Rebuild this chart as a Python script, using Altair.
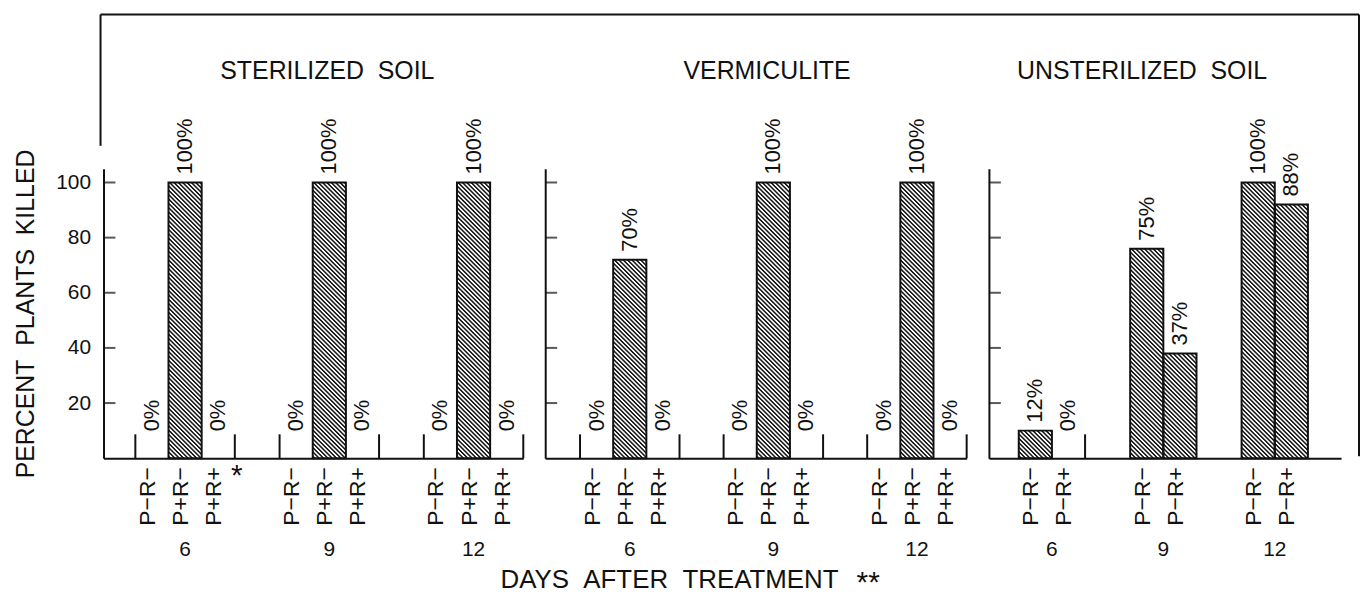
import base64
import altair as alt
import pandas as pd

# ---------------- data ----------------
panel_names = ["STERILIZED\u00a0\u00a0SOIL", "VERMICULITE", "UNSTERILIZED\u00a0\u00a0SOIL"]
days = ["6", "9", "12"]
treatments_3 = ["P\u2212R\u2212", "P+R\u2212", "P+R+"]
treatments_2 = ["P\u2212R\u2212", "P\u2212R+"]

# bar heights as drawn (percent) - one row per day
steril_vals = [[0, 100, 0], [0, 100, 0], [0, 100, 0]]
vermic_vals = [[0, 72, 0], [0, 100, 0], [0, 100, 0]]
unster_vals = [[10, 0], [76, 38], [100, 92]]
# printed value labels
steril_lbls = [["0%", "100%", "0%"], ["0%", "100%", "0%"], ["0%", "100%", "0%"]]
vermic_lbls = [["0%", "70%", "0%"], ["0%", "100%", "0%"], ["0%", "100%", "0%"]]
unster_lbls = [["12%", "0%"], ["75%", "37%"], ["100%", "88%"]]
# footnote marker (panel index, day, treatment)
footnotes = [(0, "6", "P+R+", "*")]
y_ticks = [20, 40, 60, 80, 100]
y_title = "PERCENT\u00a0\u00a0PLANTS\u00a0\u00a0KILLED"
x_title = "DAYS\u00a0\u00a0AFTER\u00a0\u00a0TREATMENT"

# ---------------- style ----------------
FONT = "Liberation Sans"
INK = "#111111"
SLOT = 33.33
H = 291
YMAX = 105

# diagonal "\\" hatch tile, drawn at pixel scale inside each bar
HATCH_SVG = (
    "<svg xmlns='http://www.w3.org/2000/svg' width='100%' height='100%'>"
    "<defs><pattern id='h' patternUnits='userSpaceOnUse' width='3.1' height='3.1' "
    "patternTransform='rotate(-45)'><rect x='0' y='0' width='1.5' height='3.1' fill='#111'/>"
    "</pattern></defs><rect width='100%' height='100%' fill='white'/>"
    "<rect width='100%' height='100%' fill='url(#h)'/></svg>"
)
HATCH = "data:image/svg+xml;base64," + base64.b64encode(HATCH_SVG.encode()).decode()


def make_df(pidx, vals, lbls, treats):
    rows = []
    for gi, d in enumerate(days):
        for si, t in enumerate(treats):
            star = ""
            for fp, fd, ft, fs in footnotes:
                if fp == pidx and fd == d and ft == t:
                    star = fs
            rows.append(dict(day=d, treat=t, gi=gi, si=si, v=vals[gi][si],
                             lbl=lbls[gi][si], star=star))
    return pd.DataFrame(rows)


def one(**kw):
    return pd.DataFrame({k: [v] for k, v in kw.items()})


def build_panel(pidx, vals, lbls, treats, pad, step, rpad, head_x, extra=()):
    n = len(treats)
    units = pad + (len(days) - 1) * step + n + rpad
    W = units * SLOT
    df = make_df(pidx, vals, lbls, treats)
    xs = alt.Scale(domain=[0, units], nice=False, zero=False)
    ys = alt.Scale(domain=[0, YMAX], nice=False, zero=True)
    xax = alt.Axis(title=None, labels=False, ticks=False, grid=False,
                   domainColor=INK, domainWidth=2)
    if pidx == 0:
        yax = alt.Axis(title=y_title, values=y_ticks, ticks=False, tickSize=0,
                       labelPadding=13, labelFontSize=21, labelFont=FONT,
                       labelColor=INK, titleFont=FONT, titleFontSize=25,
                       titleFontWeight="normal", titleColor=INK, titlePadding=17,
                       grid=False, domainColor=INK, domainWidth=2)
    else:
        yax = alt.Axis(title=None, labels=False, ticks=False, grid=False,
                       domainColor=INK, domainWidth=2)

    base = alt.Chart(df).transform_calculate(
        x0=f"{pad} + datum.gi * {step} + datum.si"
    ).transform_calculate(
        x1="datum.x0 + 1",
        xc="datum.x0 + 0.5",
        xe="datum.si == 0 ? datum.x0 : datum.x0 + 1",
    )
    X0 = alt.X("x0:Q", scale=xs, axis=xax)
    XC = alt.X("xc:Q", scale=xs, axis=xax)
    Y = alt.Y("v:Q", scale=ys, axis=yax)
    nonzero = base.transform_filter("datum.v > 0")
    zero = base.transform_filter("datum.v == 0")

    hatch = nonzero.mark_image(aspect=False).encode(
        x=X0, x2="x1:Q", y=Y, y2=alt.datum(0), url=alt.value(HATCH))
    outline = nonzero.mark_bar(fillOpacity=0, stroke=INK, strokeWidth=2).encode(
        x=X0, x2="x1:Q", y=Y, y2=alt.datum(0))
    edges = zero.mark_rule(color=INK, strokeWidth=2).encode(
        x=alt.X("xe:Q", scale=xs, axis=xax), y=Y, y2=alt.value(H - 24))
    lab_nz = nonzero.mark_text(angle=270, align="left", baseline="middle", dx=8,
                               fontSize=22, font=FONT, color=INK).encode(
        x=XC, y=Y, text="lbl:N")
    lab_z = zero.mark_text(angle=270, align="left", baseline="middle", dx=27,
                           fontSize=22, font=FONT, color=INK).encode(
        x=XC, y=Y, text="lbl:N")
    tlab = base.mark_text(angle=270, align="right", baseline="middle", dy=-4,
                          fontSize=23, font=FONT, color=INK).encode(
        x=XC, y=alt.value(H + 9), text="treat:N")
    stars = base.transform_filter("datum.star != ''").mark_text(
        align="center", baseline="top", dx=2, fontSize=30, font=FONT, color=INK
    ).encode(x=alt.X("x1:Q", scale=xs, axis=xax), y=alt.value(H + 3), text="star:N")

    ddf = pd.DataFrame({"day": days, "gi": list(range(len(days)))})
    dlab = alt.Chart(ddf).transform_calculate(
        xd=f"{pad} + datum.gi * {step} + {n / 2}"
    ).mark_text(baseline="alphabetic", align="center", fontSize=21, font=FONT,
                color=INK).encode(
        x=alt.X("xd:Q", scale=xs, axis=xax), y=alt.value(H + 98), text="day:N")

    ticks = alt.Chart(pd.DataFrame({"t": y_ticks})).mark_tick(
        color=INK, thickness=2, size=12, orient="horizontal").encode(
        y=alt.Y("t:Q", scale=ys, axis=yax), x=alt.value(6))

    heading = alt.Chart(one(name=panel_names[pidx])).mark_text(
        fontSize=25, baseline="alphabetic", align="center", font=FONT, color=INK
    ).encode(x=alt.value(head_x), y=alt.value(-90), text="name:N")

    layers = [hatch, outline, edges, lab_nz, lab_z, tlab, stars, dlab,
              ticks, heading] + list(extra)
    return alt.layer(*layers).properties(width=W, height=H)


rule_df = one(a=0)
frame = [
    alt.Chart(rule_df).mark_rule(color=INK, strokeWidth=2).encode(
        x=alt.value(-3), x2=alt.value(1262), y=alt.value(-155)),
    alt.Chart(rule_df).mark_rule(color=INK, strokeWidth=2).encode(
        x=alt.value(-3), y=alt.value(-155), y2=alt.value(-23)),
    alt.Chart(rule_df).mark_rule(color=INK, strokeWidth=2).encode(
        x=alt.value(1262), y=alt.value(-155), y2=alt.value(289)),
]
xtitle = [
    alt.Chart(one(t=x_title)).mark_text(
        fontSize=26, align="left", baseline="alphabetic", font=FONT, color=INK
    ).encode(x=alt.value(-45), y=alt.value(421), text="t:N"),
    alt.Chart(one(t="**")).mark_text(
        fontSize=30, align="left", baseline="top", font=FONT, color=INK
    ).encode(x=alt.value(313), y=alt.value(401), text="t:N"),
]

p1 = build_panel(0, steril_vals, steril_lbls, treatments_3, 0.96, 4.35, 0.0, 225, frame)
p2 = build_panel(1, vermic_vals, vermic_lbls, treatments_3, 1.05, 4.33, 0.0, 223, xtitle)
p3 = build_panel(2, unster_vals, unster_lbls, treatments_2, 0.90, 3.36, 1.0, 154)

chart = alt.hconcat(p1, p2, p3, spacing=22, bounds="flush").properties(
    padding={"left": 5, "top": 4, "right": 0, "bottom": 0}
).configure_view(stroke=None).configure_axis(grid=False)

chart.save("out.html", embed_options={"renderer": "svg", "actions": False})
